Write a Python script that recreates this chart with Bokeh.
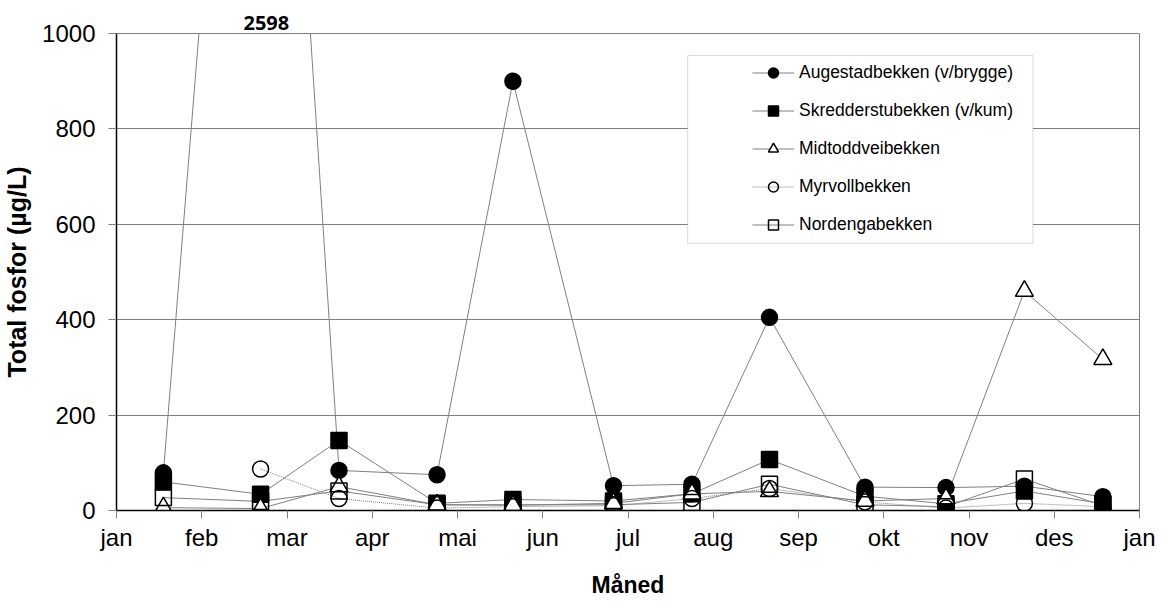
from bokeh.plotting import figure
from bokeh.models import Range1d, FixedTicker, Legend, LegendItem, BoxAnnotation, Title
from bokeh.embed import file_html
from bokeh.resources import INLINE
import numpy as np

# ---------------- data ----------------
month_labels = ["jan", "feb", "mar", "apr", "mai", "jun", "jul", "aug", "sep", "okt", "nov", "des", "jan"]
# sampling times, in months from 1 January
sample_month = [0.55, 1.69, 2.61, 3.76, 4.65, 5.83, 6.75, 7.66, 8.78, 9.73, 10.65, 11.57]

augestad = [79, 2598, 84, 75, 900, 52, 55, 405, 49, 48, 51, 29]
skredderstu = [60, 34, 147, 15, 23, 20, 35, 107, 30, 14, 41, 14]
midtoddvei = [6, 4, 50, 12, 11, 15, 35, 40, 20, 25, 460, 317]
myrvoll = [np.nan, 87, 25, 5, 8, 10, 25, 46, 18, 5, 15, 8]
nordenga = [27, 19, 41, 12, 12, 12, 17, 55, 12, 8, 66, 10]

series_names = ["Augestadbekken (v/brygge)", "Skredderstubekken (v/kum)", "Midtoddveibekken",
                "Myrvollbekken", "Nordengabekken"]
series_values = [augestad, skredderstu, midtoddvei, myrvoll, nordenga]

# ---------------- figure ----------------
FONT = "Liberation Sans"
p = figure(width=1155, height=600, output_backend="svg", toolbar_location=None,
           x_range=Range1d(0, 12), y_range=Range1d(0, 1000),
           min_border_left=114, min_border_right=16, min_border_top=33, min_border_bottom=86)
p.background_fill_color = "white"
p.border_fill_color = "white"
p.outline_line_color = "#808080"
p.outline_line_width = 1

# data label of the off-scale peak, shown above the plot area
peak_i = int(np.nanargmax(augestad))
p.title = Title(text=str(augestad[peak_i]), align="left", offset=127, standoff=8,
                text_font="Open Sans", text_font_style="bold", text_font_size="20px",
                text_color="black")

# axes
p.xaxis.ticker = FixedTicker(ticks=list(range(13)))
p.xaxis.major_label_overrides = {i: lab for i, lab in enumerate(month_labels)}
p.yaxis.ticker = FixedTicker(ticks=[0, 200, 400, 600, 800, 1000])
for ax in (p.xaxis, p.yaxis):
    ax.axis_line_color = "black"
    ax.axis_line_width = 1.5
    ax.major_tick_line_color = "#808080"
    ax.major_tick_in = 0
    ax.major_tick_out = 8
    ax.minor_tick_line_color = None
    ax.major_label_text_font = FONT
    ax.major_label_text_font_size = "24px"
    ax.major_label_text_color = "black"
    ax.axis_label_text_font = FONT
    ax.axis_label_text_font_style = "bold"
    ax.axis_label_text_color = "black"
p.xaxis.major_label_standoff = 5
p.xaxis.axis_label = "Måned"
p.xaxis.axis_label_text_font_size = "23px"
p.xaxis.axis_label_standoff = 18
p.yaxis.major_label_standoff = 13
p.yaxis.axis_label = "Total fosfor (µg/L)"
p.yaxis.axis_label_text_font_size = "25px"
p.yaxis.axis_label_standoff = 8

p.xgrid.grid_line_color = None
p.ygrid.grid_line_color = "#808080"
p.ygrid.grid_line_width = 1

# ---------------- series ----------------
line_color = "#808080"
styles = [
    dict(marker="circle", size=16, fill_color="black", fill_alpha=1.0, dash="solid"),
    dict(marker="square", size=16, fill_color="black", fill_alpha=1.0, dash="solid"),
    dict(marker="triangle", size=18, fill_color="white", fill_alpha=1.0, dash="solid"),
    dict(marker="circle", size=16, fill_color="white", fill_alpha=0.0, dash="1 1"),
    dict(marker="square", size=16, fill_color="white", fill_alpha=0.0, dash="solid"),
]

line_renderers = []
for vals, st in zip(series_values, styles):
    lr = p.line(sample_month, vals, line_color=line_color, line_width=1, line_dash=st["dash"])
    line_renderers.append(lr)

marker_renderers = []
for vals, st in zip(series_values, styles):
    mr = p.scatter(sample_month, vals, marker=st["marker"], size=st["size"],
                   fill_color=st["fill_color"], fill_alpha=st["fill_alpha"],
                   line_color="black", line_width=1.5)
    marker_renderers.append(mr)

# legend frame
p.add_layout(BoxAnnotation(left=6.70, right=10.75, bottom=560, top=954,
                           fill_color="white", fill_alpha=1.0,
                           line_color="#808080", line_width=1, level="annotation"))

items = [LegendItem(label=n, renderers=[lr, mr])
         for n, lr, mr in zip(series_names, line_renderers, marker_renderers)]
legend = Legend(items=items, location=(636, 273), orientation="vertical",
                glyph_width=42, glyph_height=25, label_height=25, label_standoff=5,
                spacing=13, padding=0, margin=0,
                border_line_alpha=0, background_fill_alpha=0,
                label_text_font=FONT, label_text_font_size="17.5px", label_text_color="black")
p.add_layout(legend, "center")

open("out.html", "w").write(file_html(p, INLINE))
